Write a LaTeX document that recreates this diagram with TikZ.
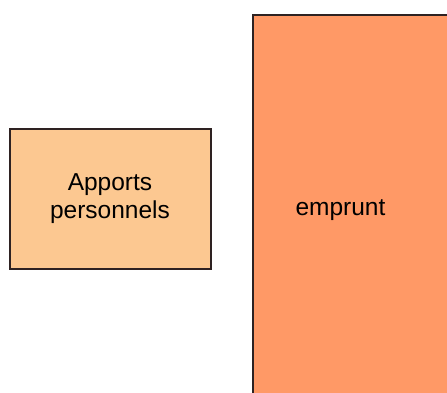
\documentclass[tikz,border=0pt]{standalone}
\usepackage{fontspec}
\setmainfont{Liberation Sans}
\usetikzlibrary{positioning}
\definecolor{apport}{HTML}{FCC891}
\definecolor{pret}{HTML}{FF9966}
\definecolor{bord}{HTML}{2E2222}

\tikzset{
    bloc/.style={draw=bord, line width=2pt, inner sep=0pt}
}

\begin{document}
\begin{tikzpicture}[x=1pt, y=-1pt, font=\fontsize{24.5}{28}\selectfont]
    \useasboundingbox (0,0) rectangle (447,392);
    \clip (0,0) rectangle (447,392);

    % apports personnels
    \node[bloc, fill=apport, minimum width=201pt, minimum height=140.5pt, align=center] (apports) at (110,198.75) {Apports\\personnels};

    % emprunt
    \node[bloc, fill=pret, minimum width=199.5pt, minimum height=385pt] (emprunt) at (352.25,207.5) {};
    \node[anchor=base] (empruntlbl) at (340.5,215) {emprunt};
\end{tikzpicture}
\end{document}
